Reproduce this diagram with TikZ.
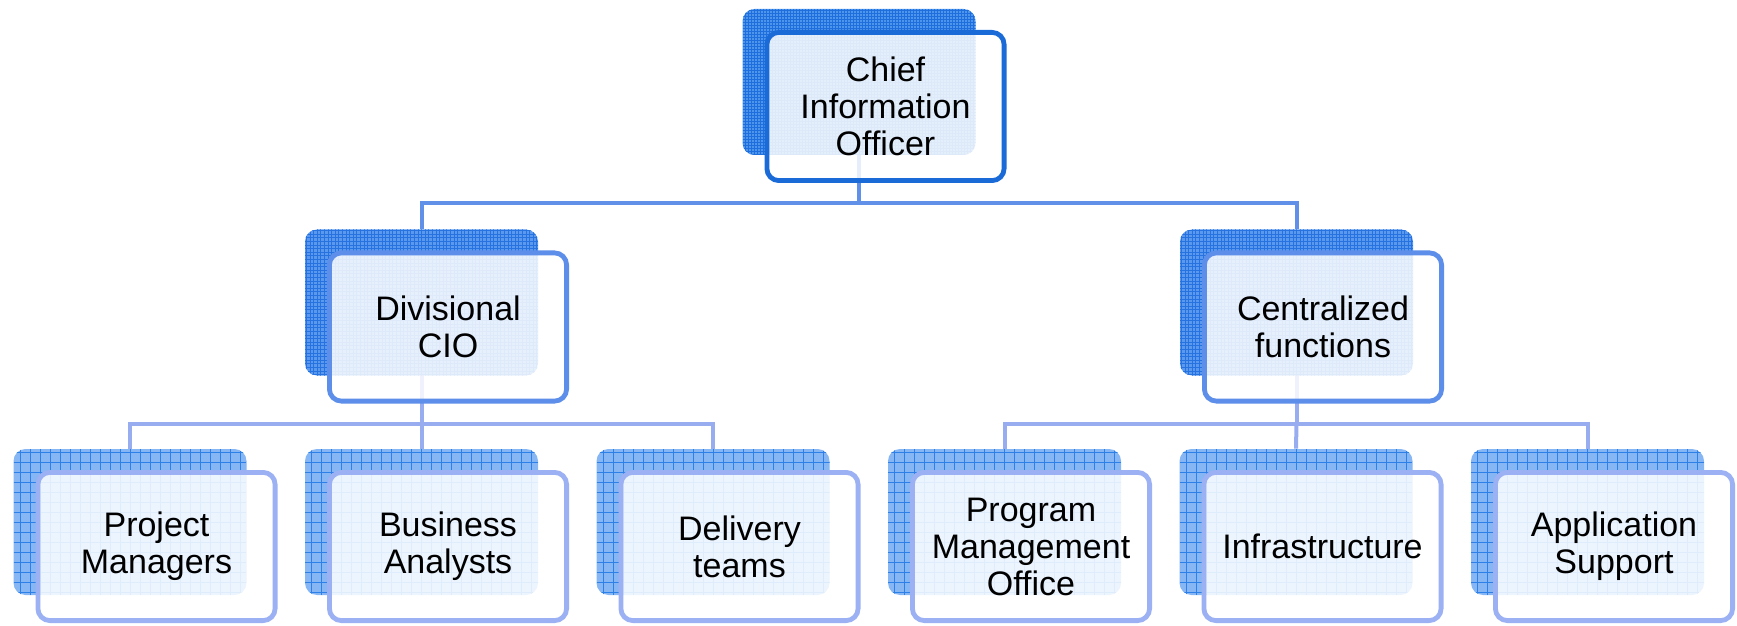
\documentclass[tikz,border=0pt]{standalone}
\usepackage{fontspec}
\setmainfont{Liberation Sans}
\usetikzlibrary{positioning,calc,backgrounds}

\definecolor{cioLine}{HTML}{1A6AD8}
\definecolor{divLine}{HTML}{5C8EEA}
\definecolor{lowLine}{HTML}{9BB1F3}
\definecolor{linkTop}{HTML}{6090E8}
\definecolor{linkLow}{HTML}{97ADF0}
\definecolor{backTop}{HTML}{4E95EC}
\definecolor{gridTop}{HTML}{1E6FDD}
\definecolor{backMid}{HTML}{5A99EE}
\definecolor{gridMid}{HTML}{2672E0}
\definecolor{backLow}{HTML}{86B6F4}
\definecolor{gridLow}{HTML}{2C80E8}

\begin{document}
\begin{tikzpicture}[
            x=0.5pt, y=-0.5pt,
            % Style of the white front card
            front/.style={
                draw,
                rounded corners=6pt,
                line width=2.4pt,
                fill=white,
                fill opacity=0.85,
                text opacity=1,
                minimum width=118.6pt,
                minimum height=74.1pt,
                inner sep=0pt,
                align=center,
                font=\fontsize{17}{18.5}\selectfont
            },
            % Style of the patterned card behind
            back/.style={
                rounded corners=6pt,
                minimum width=116.5pt,
                minimum height=73pt,
                inner sep=0pt
            },
            backtop/.style={back, fill=backTop,
                path picture={\draw[gridTop, line width=0.3pt, step=1.5pt]
                    (path picture bounding box.south west) grid (path picture bounding box.north east);}},
            backmid/.style={back, fill=backMid,
                path picture={\draw[gridMid, line width=0.3pt, step=1.8pt]
                    (path picture bounding box.south west) grid (path picture bounding box.north east);}},
            backlow/.style={back, fill=backLow,
                path picture={\draw[gridLow, line width=0.5pt, step=5pt]
                    (path picture bounding box.south west) grid (path picture bounding box.north east);}},
            linktop/.style={draw=linkTop, line width=2pt},
            linklow/.style={draw=linkLow, line width=2pt}
        ]
            \useasboundingbox (0,0) rectangle (1737,626);

            % --- LEVEL 1: CIO ---
            \node[backtop] (cio_b) at (859,82) {};
            \node[front, draw=cioLine] (cio) at ([shift={(26.5,24.5)}]cio_b.center) {Chief\\Information\\Officer};

            % --- LEVEL 2 ---
            \node[backmid] (div_b) at (421.5,302.5) {};
            \node[front, draw=divLine] (div) at ([shift={(26.5,24.5)}]div_b.center) {Divisional\\CIO};

            \node[backmid] (cen_b) at (1296.5,302.5) {};
            \node[front, draw=divLine] (cen) at ([shift={(26.5,24.5)}]cen_b.center) {Centralized\\functions};

            % --- LEVEL 3 ---
            \node[backlow] (pm_b) at (130,522) {};
            \node[front, draw=lowLine] (pm) at ([shift={(26.5,24.5)}]pm_b.center) {Project\\Managers};

            \node[backlow] (ba_b) at (421.5,522) {};
            \node[front, draw=lowLine] (ba) at ([shift={(26.5,24.5)}]ba_b.center) {Business\\Analysts};

            \node[backlow] (dt_b) at (713,522) {};
            \node[front, draw=lowLine] (dt) at ([shift={(26.5,24.5)}]dt_b.center) {Delivery\\teams};

            \node[backlow] (pmo_b) at (1004.5,522) {};
            \node[front, draw=lowLine] (pmo) at ([shift={(26.5,24.5)}]pmo_b.center) {Program\\Management\\Office};

            \node[backlow] (inf_b) at (1296,522) {};
            \node[front, draw=lowLine] (inf) at ([shift={(26.5,24.5)}]inf_b.center) {Infrastructure};

            \node[backlow] (as_b) at (1587.5,522) {};
            \node[front, draw=lowLine] (as) at ([shift={(26.5,24.5)}]as_b.center) {Application\\Support};

            % --- CONNECTORS (behind the cards) ---
            \coordinate (bartop) at (0,203);
            \coordinate (barlow) at (0,424);
            \begin{scope}[on background layer]
                \draw[linktop] (cio_b.center) -- (cio_b.center |- bartop) -| (div_b.north);
                \draw[linktop] (cio_b.center |- bartop) -| (cen_b.north);

                \draw[linklow] (div_b.center) -- (div_b.center |- barlow) -| (pm_b.north);
                \draw[linklow] (div_b.center |- barlow) -- (ba_b.north);
                \draw[linklow] (div_b.center |- barlow) -| (dt_b.north);

                \draw[linklow] (cen_b.center) -- (cen_b.center |- barlow) -| (pmo_b.north);
                \draw[linklow] (cen_b.center |- barlow) -- (inf_b.north);
                \draw[linklow] (cen_b.center |- barlow) -| (as_b.north);
            \end{scope}

        \end{tikzpicture}
\end{document}
